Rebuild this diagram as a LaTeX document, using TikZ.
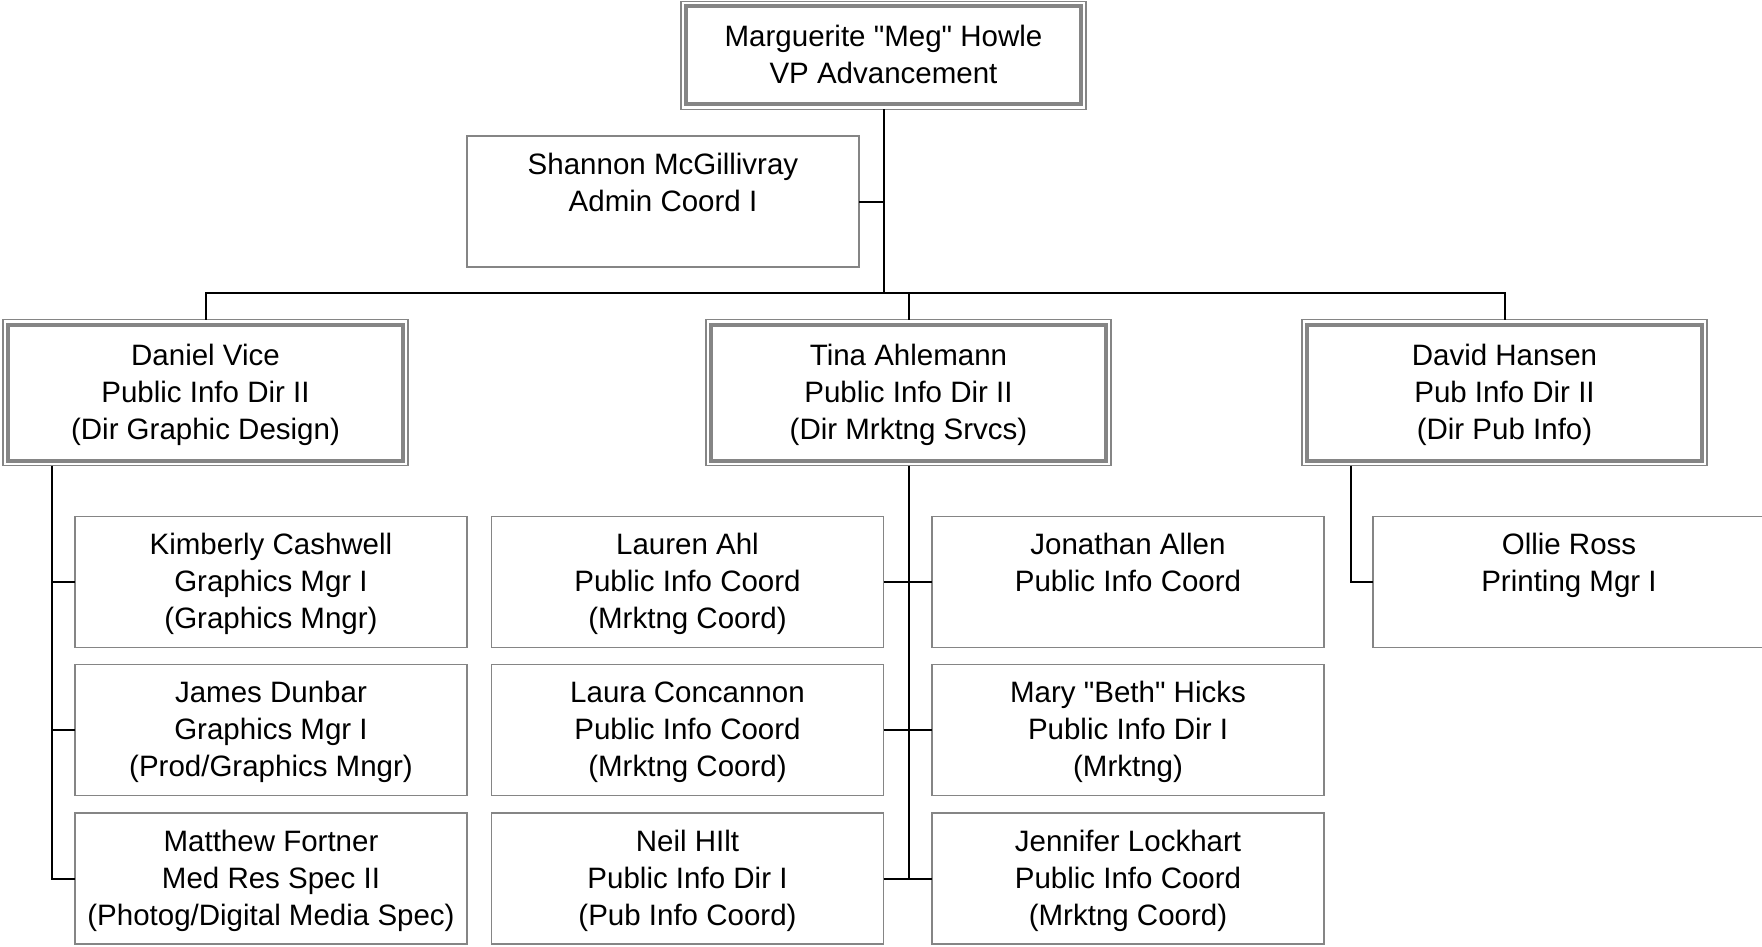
\documentclass[tikz,border=0pt]{standalone}
\usepackage{fontspec}
\setmainfont{Liberation Sans}[Ligatures=TeXOff]
\definecolor{boxgray}{HTML}{858585}
\newcommand\ls{\rule[-9pt]{0pt}{37pt}}
\begin{document}
\begin{tikzpicture}[x=1pt,y=-1pt,
  every node/.style={font=\fontsize{29.5}{37}\selectfont, align=center, inner sep=0pt, outer sep=0pt},
  sbox/.style={draw=boxgray, line width=1.5pt, minimum width=392pt, minimum height=131pt},
  dbox/.style={draw=boxgray, line width=1.5pt, minimum width=405pt, minimum height=146pt},
  inner/.style={draw=boxgray, line width=4pt},
  conn/.style={line width=2pt, black}]
\clip (0,0) rectangle (1762,947);
\fill[white] (0,0) rectangle (1762,947);

% top
\node[dbox, minimum height=108pt] (meg) at (883.5,55.5) {\ls Marguerite "Meg" Howle\\\ls VP Advancement};
\node[sbox] (shannon) at (663,201.5) {\ls Shannon McGillivray\\\ls Admin Coord I\\\ls};

% level 2
\node[dbox] (daniel) at (205.5,392.5) {\ls Daniel Vice\\\ls Public Info Dir II\\\ls (Dir Graphic Design)};
\node[dbox] (tina) at (908.5,392.5) {\ls Tina Ahlemann\\\ls Public Info Dir II\\\ls (Dir Mrktng Srvcs)};
\node[dbox] (david) at (1504.5,392.5) {\ls David Hansen\\\ls Pub Info Dir II\\\ls (Dir Pub Info)};

\foreach \n in {meg,daniel,tina,david}{
  \draw[inner] ([shift={(5,5)}]\n.north west) rectangle ([shift={(-5,-5)}]\n.south east);
}

% level 3
\node[sbox] (kim) at (271,582) {\ls Kimberly Cashwell\\\ls Graphics Mgr I\\\ls (Graphics Mngr)};
\node[sbox] (james) at (271,730) {\ls James Dunbar\\\ls Graphics Mgr I\\\ls (Prod/Graphics Mngr)};
\node[sbox] (matt) at (271,878.5) {\ls Matthew Fortner\\\ls Med Res Spec II\\\ls (Photog/Digital Media Spec)};

\node[sbox] (lauren) at (687.5,582) {\ls Lauren Ahl\\\ls Public Info Coord\\\ls (Mrktng Coord)};
\node[sbox] (laura) at (687.5,730) {\ls Laura Concannon\\\ls Public Info Coord\\\ls (Mrktng Coord)};
\node[sbox] (neil) at (687.5,878.5) {\ls Neil HIlt\\\ls Public Info Dir I\\\ls (Pub Info Coord)};

\node[sbox] (jon) at (1128,582) {\ls Jonathan Allen\\\ls Public Info Coord\\\ls};
\node[sbox] (mary) at (1128,730) {\ls Mary "Beth" Hicks\\\ls Public Info Dir I\\\ls (Mrktng)};
\node[sbox] (jen) at (1128,878.5) {\ls Jennifer Lockhart\\\ls Public Info Coord\\\ls (Mrktng Coord)};

\node[sbox] (ollie) at (1569,582) {\ls Ollie Ross\\\ls Printing Mgr I\\\ls};

% connectors
\coordinate (bus) at (884,293);
\draw[conn] (meg.south) -- (meg.south |- bus);
\draw[conn] (shannon.east) -- (shannon.east -| meg.south);
\draw[conn] (daniel.north) -- (daniel.north |- bus) -- (david.north |- bus) -- (david.north);
\draw[conn] (tina.north) -- (tina.north |- bus);

\coordinate (dl) at ([xshift=-153.5pt]daniel.south);
\draw[conn] (dl) |- (matt.west);
\draw[conn] (kim.west) -- (kim.west -| dl);
\draw[conn] (james.west) -- (james.west -| dl);

\draw[conn] (tina.south) -- (tina.south |- neil.east);
\draw[conn] (lauren.east) -- (jon.west);
\draw[conn] (laura.east) -- (mary.west);
\draw[conn] (neil.east) -- (jen.west);

\coordinate (hl) at ([xshift=-153.5pt]david.south);
\draw[conn] (hl) |- (ollie.west);
\end{tikzpicture}
\end{document}
